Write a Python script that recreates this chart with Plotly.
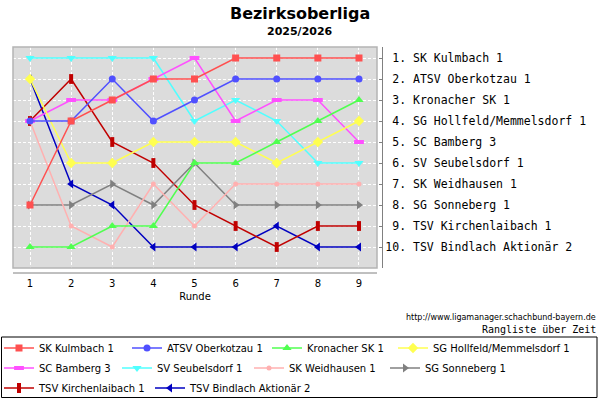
"""Bezirksoberliga 2025/2026 - Rangliste über Zeit (Plotly)"""
import plotly.graph_objects as go

# Runden und Platzierungen je Mannschaft
runden = [1, 2, 3, 4, 5, 6, 7, 8, 9]
platz = [1, 2, 3, 4, 5, 6, 7, 8, 9, 10]

sk_kulmbach = [8, 4, 3, 2, 2, 1, 1, 1, 1]
atsv_oberkotzau = [4, 4, 2, 4, 3, 2, 2, 2, 2]
kronacher_sk = [10, 10, 9, 9, 6, 6, 5, 4, 3]
sg_hollfeld = [2, 6, 6, 5, 5, 5, 6, 5, 4]
sc_bamberg = [4, 3, 3, 2, 1, 4, 3, 3, 5]
sv_seubelsdorf = [1, 1, 1, 1, 4, 3, 4, 6, 6]
sk_weidhausen = [4, 9, 10, 7, 9, 7, 7, 7, 7]
sg_sonneberg = [8, 8, 7, 8, 6, 8, 8, 8, 8]
tsv_kirchenlaibach = [4, 2, 5, 6, 8, 9, 10, 9, 9]
tsv_bindlach = [2, 7, 8, 10, 10, 10, 9, 10, 10]

mannschaften = [
    "SK Kulmbach 1", "ATSV Oberkotzau 1", "Kronacher SK 1",
    "SG Hollfeld/Memmelsdorf 1", "SC Bamberg 3", "SV Seubelsdorf 1",
    "SK Weidhausen 1", "SG Sonneberg 1", "TSV Kirchenlaibach 1",
    "TSV Bindlach Aktionär 2",
]
verlauf = [
    sk_kulmbach, atsv_oberkotzau, kronacher_sk, sg_hollfeld, sc_bamberg,
    sv_seubelsdorf, sk_weidhausen, sg_sonneberg, tsv_kirchenlaibach,
    tsv_bindlach,
]
endstand = [
    "SK Kulmbach 1", "ATSV Oberkotzau 1", "Kronacher SK 1",
    "SG Hollfeld/Memmelsdorf 1", "SC Bamberg 3", "SV Seubelsdorf 1",
    "SK Weidhausen 1", "SG Sonneberg 1", "TSV Kirchenlaibach 1",
    "TSV Bindlach Aktionär 2",
]

# Stil je Mannschaft: (Farbe, Symbol, Größe)
stil = [
    ("#ff5050", "square", 7),
    ("#5050ff", "circle", 7),
    ("#50ff50", "triangle-up", 8),
    ("#ffff50", "diamond", 8),
    ("#ff50ff", "line-ew", 7),
    ("#50ffff", "triangle-down", 8),
    ("#ffb0b0", "circle", 5),
    ("#808080", "triangle-right", 8),
    ("#c00000", "line-ns", 7),
    ("#0000c0", "triangle-left", 8),
]

# Pixel -> Papierkoordinaten
L, R, T, B = 13, 180, 47, 132
PW, PH = 600 - L - R, 400 - T - B


def px(x):
    return (x - L) / PW


def py(y):
    return (400 - B - y) / PH


# eine Legende je Eintrag, Position (Symbolanfang, Zeilenmitte) in Pixeln
leg_pos = [(4, 348), (132, 348), (272, 348), (398, 348),
           (4, 368), (122, 368), (254, 368), (390, 368),
           (4, 388), (155, 388)]
leg_names = ["legend"] + [f"legend{k}" for k in range(2, 11)]

fig = go.Figure()

# in umgekehrter Reihenfolge zeichnen (erste Mannschaft liegt oben)
for i in reversed(range(len(mannschaften))):
    farbe, symbol, groesse = stil[i]
    offen = symbol.startswith("line")
    fig.add_trace(
        go.Scatter(
            x=runden,
            y=verlauf[i],
            mode="lines+markers",
            name=mannschaften[i],
            line=dict(color=farbe, width=1.5),
            marker=dict(
                symbol=symbol, size=groesse, color=farbe,
                line=dict(color=farbe, width=4 if offen else 0),
            ),
            legend=leg_names[i],
        )
    )

leg_font = dict(family="DejaVu Sans", size=10, color="black")
for name, (sx, sy) in zip(leg_names, leg_pos):
    fig.update_layout({name: dict(
        x=px(sx - 5), y=py(sy), orientation="h",
        xanchor="left", yanchor="middle",
        bgcolor="rgba(0,0,0,0)", borderwidth=0, font=leg_font,
        itemclick=False, itemdoubleclick=False,
    )})

fig.update_layout(
    width=600, height=400,
    margin=dict(l=L, r=R, t=T, b=B, autoexpand=False),
    paper_bgcolor="white",
    plot_bgcolor="#dcdcdc",
    font=dict(family="DejaVu Sans", color="black"),
    showlegend=True,
    xaxis=dict(
        domain=[0, px(377)],
        range=[0.5866, 9.438],
        tickvals=runden,
        ticktext=[str(r) for r in runden],
        showgrid=True, gridcolor="white", griddash="3px,2px", gridwidth=1,
        zeroline=False, showline=False,
        ticks="outside", ticklen=6, tickcolor="rgba(0,0,0,0)",
        tickfont=dict(size=10),
        title=dict(text="Runde", font=dict(size=10), standoff=4),
    ),
    yaxis=dict(
        range=[11.0, 0.476],
        anchor="free", side="right", position=px(382),
        tickvals=platz,
        ticktext=[("\u00a0" if p < 10 else "") + f"{p}. {n}"
                  for p, n in zip(platz, endstand)],
        tickfont=dict(family="DejaVu Sans Mono", size=11.5),
        showgrid=True, gridcolor="white", griddash="3px,2px", gridwidth=1,
        zeroline=False,
        showline=True, linecolor="#808080", linewidth=1,
        ticks="inside", ticklen=3, tickcolor="#808080",
    ),
)

# Rahmen des Diagramms, Achsenlinie unten, Legendenrahmen
fig.add_shape(type="rect", xref="x domain", yref="y domain",
              x0=0, x1=1, y0=0, y1=1,
              line=dict(color="#b4b4b4", width=1.5), layer="above")
fig.add_shape(type="line", xref="x domain", yref="paper",
              x0=0, x1=1, y0=py(273), y1=py(273),
              line=dict(color="#808080", width=1))
fig.add_shape(type="rect", xref="paper", yref="paper",
              x0=px(1.5), x1=px(597), y0=py(337), y1=py(397.5),
              line=dict(color="black", width=1))

# Titel und Beschriftungen
fig.add_annotation(text="<b>Bezirksoberliga</b>", xref="paper", yref="paper",
                   x=px(300), y=py(13), showarrow=False,
                   font=dict(size=16), xanchor="center", yanchor="middle")
fig.add_annotation(text="<b>2025/2026</b>", xref="paper", yref="paper",
                   x=px(300), y=py(31), showarrow=False,
                   font=dict(size=11), xanchor="center", yanchor="middle")
fig.add_annotation(text="http://www.ligamanager.schachbund-bayern.de",
                   xref="paper", yref="paper", x=px(598), y=py(317),
                   showarrow=False, font=dict(size=8),
                   xanchor="right", yanchor="middle")
fig.add_annotation(text="Rangliste über Zeit", xref="paper", yref="paper",
                   x=px(598), y=py(329), showarrow=False,
                   font=dict(family="DejaVu Sans Mono", size=10),
                   xanchor="right", yanchor="middle")

# Seitenrand des Browsers entfernen, damit das Bild bei (0, 0) beginnt
fig.write_html("out.html", config={"displayModeBar": False},
               post_script="document.body.style.margin='0';")
